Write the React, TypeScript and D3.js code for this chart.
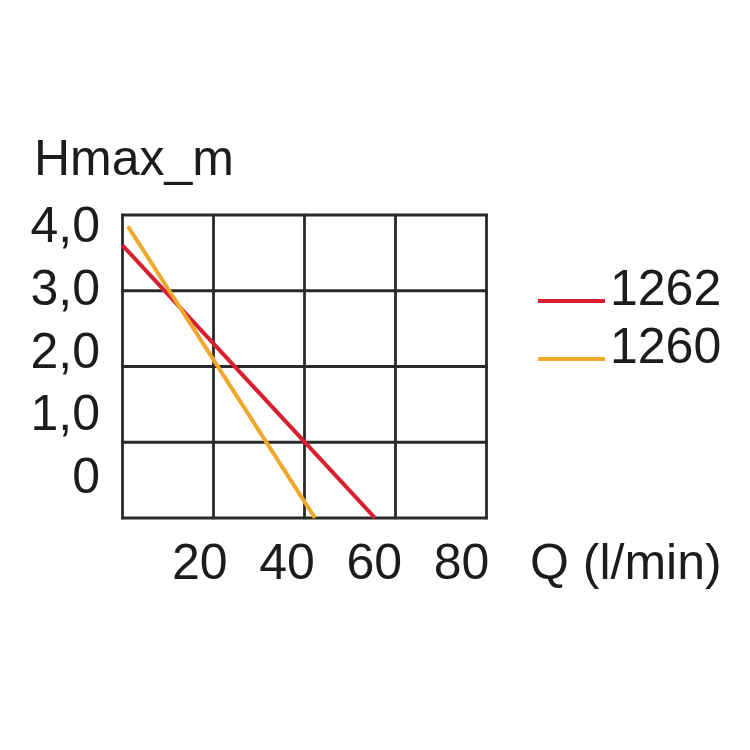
import React from "react";
import * as d3 from "d3";

// Pump curves: Q (l/min) vs Hmax (m)
const series1262 = [
  { q: 0, h: 3.6 },
  { q: 55.5, h: 0 },
];
const series1260 = [
  { q: 1.2, h: 3.85 },
  { q: 42.3, h: 0 },
];
const seriesNames = ["1262", "1260"];
const seriesColors = ["#d81f2f", "#f0a82c"];

const xGrid = [0, 20, 40, 60, 80];
const yGrid = [0, 1, 2, 3, 4];
const xTickLabels = [20, 40, 60, 80];
const yTickValues = [4, 3, 2, 1, 0];
const yTickLabels = ["4,0", "3,0", "2,0", "1,0", "0"];

const font = "'Liberation Sans', Arial, Helvetica, sans-serif";

export default function App() {
  const width = 750;
  const height = 750;
  const left = 122.5;
  const right = 486.5;
  const top = 215;
  const bottom = 518;

  const x = d3.scaleLinear().domain([0, 80]).range([left, right]);
  const y = d3.scaleLinear().domain([0, 4]).range([bottom, top]);

  // the printed tick labels sit on their own (slightly tighter) spacing
  const xLabel = d3.scaleLinear().domain([20, 80]).range([199.7, 461.5]);
  const yLabel = d3.scaleLinear().domain([0, 4]).range([493, 242]);

  const line = d3
    .line<{ q: number; h: number }>()
    .x((d) => x(d.q))
    .y((d) => y(d.h));

  const data = [series1262, series1260];

  return (
    <svg
      width={width}
      height={height}
      style={{ position: "absolute", left: 0, top: 0, background: "#fff" }}
      fontFamily={font}
    >
      <rect width={width} height={height} fill="#fff" />
      <g stroke="#2a2a2a" strokeWidth={2.8}>
        {xGrid.map((v) => (
          <line key={"x" + v} x1={x(v)} x2={x(v)} y1={top - 1.2} y2={bottom + 1.2} />
        ))}
        {yGrid.map((v) => (
          <line key={"y" + v} x1={left - 1.2} x2={right + 1.2} y1={y(v)} y2={y(v)} />
        ))}
      </g>

      {data.map((d, i) => (
        <path
          key={seriesNames[i]}
          d={line(d) ?? ""}
          fill="none"
          stroke={seriesColors[i]}
          strokeWidth={4}
        />
      ))}

      <g fill="#1c1c1c" fontSize={50}>
        <text x={34} y={175}>
          Hmax_m
        </text>
        {yTickValues.map((v, i) => (
          <text key={v} x={100} y={yLabel(v)} textAnchor="end">
            {yTickLabels[i]}
          </text>
        ))}
        {xTickLabels.map((v) => (
          <text key={v} x={xLabel(v)} y={579} textAnchor="middle">
            {v}
          </text>
        ))}
        <text x={530} y={579}>
          Q (l/min)
        </text>
      </g>

      {seriesNames.map((name, i) => (
        <g key={name} transform={`translate(0,${i * 58})`}>
          <line
            x1={538}
            x2={605}
            y1={301}
            y2={301}
            stroke={seriesColors[i]}
            strokeWidth={4}
          />
          <text x={610} y={305} fontSize={50} fill="#1c1c1c">
            {name}
          </text>
        </g>
      ))}
    </svg>
  );
}
